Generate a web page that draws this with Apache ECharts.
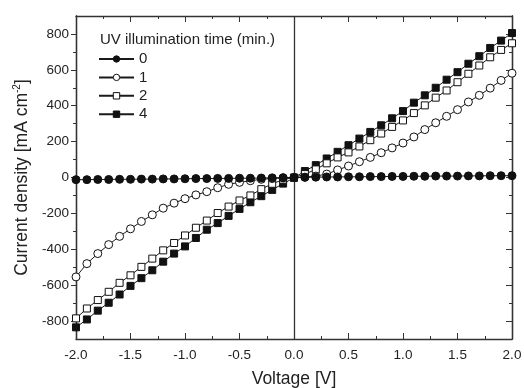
<!DOCTYPE html>
<html>
<head>
<meta charset="utf-8">
<script src="https://cdn.jsdelivr.net/npm/echarts@6/dist/echarts.min.js"></script>
<style>html,body{margin:0;padding:0;background:#fff}#c{width:524px;height:388px}</style>
</head>
<body>
<div id="c"></div>
<script>
const voltage = [-2.0,-1.9,-1.8,-1.7,-1.6,-1.5,-1.4,-1.3,-1.2,-1.1,-1.0,-0.9,-0.8,-0.7,-0.6,-0.5,-0.4,-0.3,-0.2,-0.1,0.0,0.1,0.2,0.3,0.4,0.5,0.6,0.7,0.8,0.9,1.0,1.1,1.2,1.3,1.4,1.5,1.6,1.7,1.8,1.9,2.0];
const t0 = [-12,-12,-11,-11,-10,-10,-9,-9,-8,-8,-7,-6,-6,-5,-5,-4,-4,-3,-2,-1,0,1,2,3,3,4,4,5,5,6,6,7,7,8,8,8,9,9,10,10,10];
const t1 = [-554,-480,-424,-374,-328,-286,-245,-208,-171,-143,-118,-97,-79,-57,-38,-27,-18,-10,-6,-2,0,2,8,19,42,64,88,112,138,165,192,226,267,305,341,378,421,458,498,541,581];
const t2 = [-785,-730,-683,-637,-587,-545,-498,-452,-406,-365,-323,-280,-240,-198,-162,-128,-100,-65,-35,-12,0,19,45,79,112,140,173,208,245,282,318,359,402,445,485,531,578,624,670,711,748];
const t4 = [-835,-791,-742,-698,-652,-604,-561,-517,-469,-424,-384,-337,-291,-254,-214,-175,-138,-104,-69,-34,-2,36,69,106,143,180,217,254,291,330,370,417,458,500,545,587,634,676,722,763,805];
const seriesNames = ['0','1','2','4'];
const yLabelValues = [-800,-600,-400,-200,0,200,400,600,800];
const yMinorValues = [-700,-500,-300,-100,100,300,500,700];
const legendTitle = 'UV illumination time (min.)';

const FONT = 'Liberation Sans, Arial, sans-serif';
const INK = '#222';
const AX = '#333';
function pairs(ys){ return voltage.map((v,i)=>[v, ys[i]]); }

const chart = echarts.init(document.getElementById('c'), null, {renderer:'canvas'});
const frameLine = {show:true, onZero:false, lineStyle:{color:AX, width:1.3}};
function yAxisDef(pos, vals, len, inside, labels, name){
  const o = {
    type:'value', position:pos, min:-900, max:900, gridIndex:0,
    axisLine: frameLine,
    splitLine:{show:false},
    axisTick:{show:true, inside:inside, length:len, customValues:vals, lineStyle:{color:AX, width:1}},
    axisLabel:{show:labels, customValues:vals, margin:7, color:INK, fontSize:13.5, fontFamily:FONT}
  };
  if (name) {
    o.name = '{a|Current density [mA cm}{s|-2}{a|]}';
    o.nameLocation = 'middle';
    o.nameGap = 44;
    o.nameRotate = 90;
    o.nameTextStyle = {rich:{
      a:{fontSize:17.5, color:INK, fontFamily:FONT},
      s:{fontSize:10, color:INK, fontFamily:FONT, verticalAlign:'top', padding:[0,0,9,0]}
    }};
  }
  return o;
}
function xAxisDef(pos, labels, name){
  const o = {
    type:'value', position:pos, min:-2, max:2, interval:0.5,
    axisLine: frameLine, splitLine:{show:false},
    axisTick:{show:true, inside:true, length:6, lineStyle:{color:AX, width:1}},
    minorTick:{show:true, splitNumber:2, length:3, lineStyle:{color:AX, width:1}},
    minorSplitLine:{show:false},
    axisLabel:{show:labels, margin:9, color:INK, fontSize:13.5, fontFamily:FONT, formatter:v=>v.toFixed(1)}
  };
  if (name){
    o.name = 'Voltage [V]'; o.nameLocation='middle'; o.nameGap=31;
    o.nameTextStyle = {fontSize:17.5, color:INK, fontFamily:FONT};
  }
  return o;
}
const lineStyle = {color:'#1a1a1a', width:1};
function ser(name, ys, symbol, size, fill, z){
  return {
    name, type:'line', data:pairs(ys), xAxisIndex:0, yAxisIndex:0,
    symbol, symbolSize:size, showAllSymbol:true, clip:true, z,
    lineStyle, itemStyle:{color:fill, borderColor:'#111', borderWidth:1},
    emphasis:{disabled:true}, animation:false
  };
}
const s0 = ser(seriesNames[0], t0, 'circle', 8, '#111', 5);
s0.markLine = {silent:true, symbol:['none','none'], label:{show:false},
  lineStyle:{color:AX, width:1.3, type:'solid'}, data:[{xAxis:0}], animation:false};

chart.setOption({
  animation:false,
  backgroundColor:'#fff',
  title:{text:legendTitle, left:95, top:27, textStyle:{fontSize:15, fontWeight:'normal', color:INK, fontFamily:FONT}},
  legend:{
    data:seriesNames, orient:'vertical', left:93, top:46.5, itemWidth:35, itemHeight:8, itemGap:3.4,
    textStyle:{fontSize:15, color:INK, fontFamily:FONT}, itemStyle:{borderColor:'#111', borderWidth:1}, selectedMode:false
  },
  grid:{left:76, right:12, top:16, bottom:49, containLabel:false, outerBoundsMode:'none'},
  xAxis:[xAxisDef('bottom', true, true), xAxisDef('top', false, false)],
  yAxis:[
    yAxisDef('left', yLabelValues, 5, false, true, true),
    yAxisDef('left', yMinorValues, 3, false, false, false),
    yAxisDef('right', yLabelValues, 6, true, false, false),
    yAxisDef('right', yMinorValues, 3, true, false, false)
  ],
  series:[
    s0,
    ser(seriesNames[1], t1, 'circle', 8, '#fff', 4),
    ser(seriesNames[2], t2, 'rect', 7, '#fff', 3),
    ser(seriesNames[3], t4, 'rect', 7, '#111', 2)
  ]
});
</script>
</body>
</html>
